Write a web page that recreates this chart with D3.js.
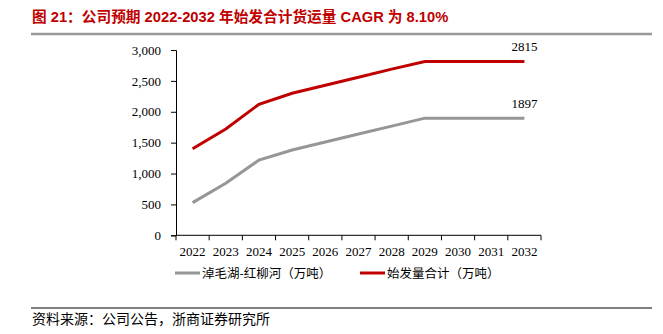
<!DOCTYPE html>
<html>
<head>
<meta charset="utf-8">
<script src="https://cdn.jsdelivr.net/npm/d3@7"></script>
<style>
  body { margin: 0; background: #fff; }
  svg { display: block; }
</style>
</head>
<body>
<div id="chart"></div>
<script>
// data
var years = ["2022", "2023", "2024", "2025", "2026", "2027", "2028", "2029", "2030", "2031", "2032"];
var grayVals = [529, 842, 1217, 1381, 1510, 1639, 1768, 1897, 1897, 1897, 1897];
var redVals = [1400, 1720, 2121, 2300, 2430, 2560, 2690, 2815, 2815, 2815, 2815];
var yTicks = [0, 500, 1000, 1500, 2000, 2500, 3000];
var seriesNames = ["淖毛湖-红柳河（万吨）", "始发量合计（万吨）"];

var width = 663, height = 334;
var serif = "'Liberation Serif', 'Times New Roman', 'Noto Sans CJK SC', serif";
var cjk = "'Noto Sans CJK SC', sans-serif";

var svg = d3.select("#chart").append("svg")
    .attr("width", width)
    .attr("height", height);

// title + rule under it
svg.append("text")
    .attr("x", 32)
    .attr("y", 22)
    .attr("fill", "#C00000")
    .style("font-family", "'Liberation Sans', Arial, 'Noto Sans CJK SC', sans-serif")
    .style("font-weight", "bold")
    .style("font-size", "14.7px")
    .text("图 21：公司预期 2022-2032 年始发合计货运量 CAGR 为 8.10%");

svg.append("line")
    .attr("x1", 31).attr("x2", 652)
    .attr("y1", 34).attr("y2", 34)
    .attr("stroke", "#999")
    .attr("stroke-width", 2.5);

// scales
var x = d3.scaleBand().domain(years).range([176, 541]);
var y = d3.scaleLinear().domain([0, 3000]).range([235.3, 50]);

// y axis
var yAxis = svg.append("g")
    .attr("transform", "translate(176,0)")
    .call(d3.axisLeft(y).tickValues(yTicks).tickSize(5).tickPadding(10)
        .tickFormat(d3.format(",")));
yAxis.select(".domain").attr("stroke", "#000");
yAxis.selectAll("text")
    .style("font-family", serif)
    .style("font-size", "13px")
    .attr("fill", "#000");

// x axis, ticks at band edges
var xAxis = svg.append("g")
    .attr("transform", "translate(0," + y(0) + ")");
xAxis.append("line")
    .attr("x1", x.range()[0]).attr("x2", x.range()[1])
    .attr("stroke", "#000");
var edges = years.map(d => x(d)).concat([x.range()[1]]);
xAxis.selectAll(".edge")
    .data(edges)
    .enter()
    .append("line")
    .attr("class", "edge")
    .attr("x1", d => d).attr("x2", d => d)
    .attr("y1", 0).attr("y2", 5)
    .attr("stroke", "#000");
xAxis.selectAll(".lbl")
    .data(years)
    .enter()
    .append("text")
    .attr("class", "lbl")
    .attr("x", d => x(d) + x.bandwidth() / 2)
    .attr("y", 21)
    .attr("text-anchor", "middle")
    .style("font-family", serif)
    .style("font-size", "13px")
    .text(d => d);

// lines
var line = d3.line()
    .x((d, i) => x(years[i]) + x.bandwidth() / 2)
    .y(d => y(d));

svg.append("path")
    .datum(grayVals)
    .attr("d", line)
    .attr("fill", "none")
    .attr("stroke", "#969696")
    .attr("stroke-width", 3);

svg.append("path")
    .datum(redVals)
    .attr("d", line)
    .attr("fill", "none")
    .attr("stroke", "#C00000")
    .attr("stroke-width", 3);

// end labels
var last = years.length - 1;
[grayVals, redVals].forEach(function(vals) {
    svg.append("text")
        .attr("x", x(years[last]) + x.bandwidth() / 2)
        .attr("y", y(vals[last]) - 10)
        .attr("text-anchor", "middle")
        .style("font-family", serif)
        .style("font-size", "13px")
        .text(vals[last]);
});

// legend
var legendColors = ["#969696", "#C00000"];
var legendX = [175, 360];
seriesNames.forEach(function(name, i) {
    svg.append("line")
        .attr("x1", legendX[i]).attr("x2", legendX[i] + 25)
        .attr("y1", 273).attr("y2", 273)
        .attr("stroke", legendColors[i])
        .attr("stroke-width", 3);
    svg.append("text")
        .attr("x", legendX[i] + 27)
        .attr("y", 277.5)
        .style("font-family", cjk)
        .style("font-size", "12.5px")
        .text(name);
});

// source footer
svg.append("line")
    .attr("x1", 31).attr("x2", 652)
    .attr("y1", 308).attr("y2", 308)
    .attr("stroke", "#000")
    .attr("stroke-width", 1);

svg.append("text")
    .attr("x", 32)
    .attr("y", 324)
    .style("font-family", cjk)
    .style("font-size", "14px")
    .text("资料来源：公司公告，浙商证券研究所");
</script>
</body>
</html>
